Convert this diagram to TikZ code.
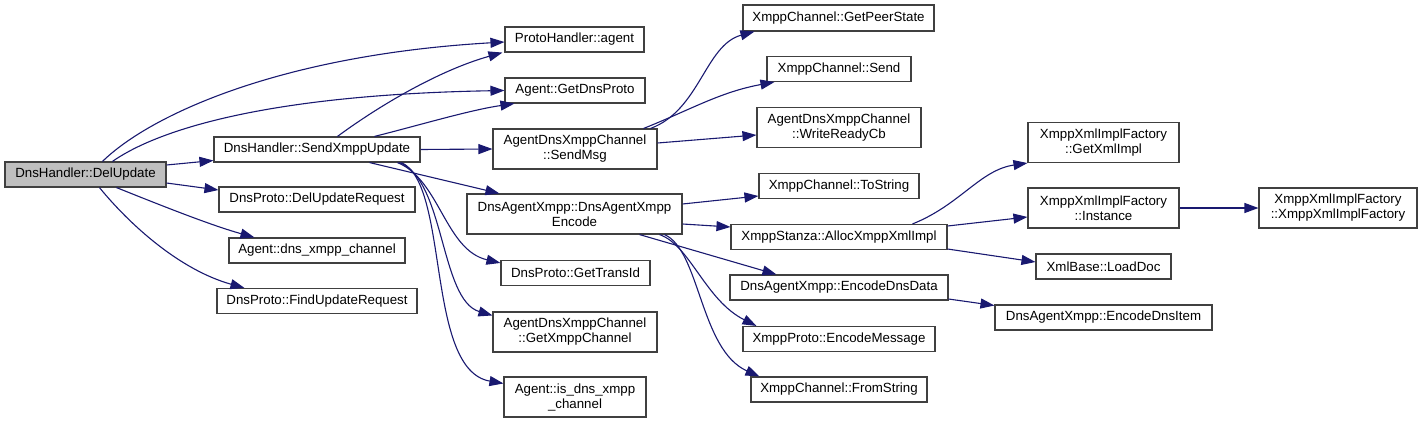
\documentclass[tikz,border=0pt]{standalone}
\usepackage{fontspec}
\setmainfont{Liberation Sans}
\usetikzlibrary{arrows.meta}
\definecolor{edgeblue}{HTML}{191970}
\definecolor{boxline}{HTML}{404040}
\definecolor{rootfill}{HTML}{BFBFBF}
\begin{document}
\begin{tikzpicture}[x=1pt,y=-1pt,
  fn/.style={draw=boxline, line width=1.1pt, fill=white, inner sep=0pt, align=center,
    font=\fontsize{13.3}{15}\selectfont, text=black, minimum height=25pt},
  fn2/.style={fn, minimum height=40pt},
  root/.style={fn, fill=rootfill},
  call/.style={draw=edgeblue, line width=1.1pt, -{Triangle[length=14pt,width=10pt]}, color=edgeblue}
]
\useasboundingbox (0,0) rectangle (1423,423);

% nodes
\node[root, minimum width=161pt] (del) at (85.5,174.5) {DnsHandler::DelUpdate};
\node[fn, minimum width=206pt] (send) at (317,149.5) {DnsHandler::SendXmppUpdate};
\node[fn, minimum width=196pt] (delreq) at (317,199.5) {DnsProto::DelUpdateRequest};
\node[fn, minimum width=176pt] (dnsch) at (317,250.5) {Agent::dns\_xmpp\_channel};
\node[fn, minimum width=200pt] (findreq) at (317,301) {DnsProto::FindUpdateRequest};

\node[fn, minimum width=139pt] (agent) at (574.5,39.5) {ProtoHandler::agent};
\node[fn, minimum width=140pt] (getdns) at (575,90.5) {Agent::GetDnsProto};
\node[fn2, minimum width=164pt] (sendmsg) at (575,149) {AgentDnsXmppChannel\\::SendMsg};
\node[fn2, minimum width=215pt] (encode) at (574.5,214) {DnsAgentXmpp::DnsAgentXmpp\\Encode};
\node[fn, minimum width=149pt] (transid) at (575.5,273) {DnsProto::GetTransId};
\node[fn2, minimum width=164pt] (getxmpp) at (575,332) {AgentDnsXmppChannel\\::GetXmppChannel};
\node[fn2, minimum width=142pt] (isdns) at (575,397) {Agent::is\_dns\_xmpp\\\_channel};

\node[fn, minimum width=191pt, minimum height=26pt] (peer) at (838.5,18) {XmppChannel::GetPeerState};
\node[fn, minimum width=144pt] (xsend) at (839,69) {XmppChannel::Send};
\node[fn2, minimum width=164pt] (writeready) at (839,127.5) {AgentDnsXmppChannel\\::WriteReadyCb};
\node[fn, minimum width=160pt] (tostring) at (839,186) {XmppChannel::ToString};
\node[fn, minimum width=216pt] (alloc) at (839,237) {XmppStanza::AllocXmppXmlImpl};
\node[fn, minimum width=218pt] (encdata) at (839,287.5) {DnsAgentXmpp::EncodeDnsData};
\node[fn, minimum width=192pt] (encmsg) at (839,339) {XmppProto::EncodeMessage};
\node[fn, minimum width=176pt] (fromstr) at (839,389.5) {XmppChannel::FromString};

\node[fn2, minimum width=151pt] (getxml) at (1103.5,142.5) {XmppXmlImplFactory\\::GetXmlImpl};
\node[fn2, minimum width=151pt] (instance) at (1103.5,208) {XmppXmlImplFactory\\::Instance};
\node[fn2, minimum width=158pt] (factory) at (1338,208) {XmppXmlImplFactory\\::XmppXmlImplFactory};
\node[fn, minimum width=135pt] (loaddoc) at (1103.5,266.5) {XmlBase::LoadDoc};
\node[fn, minimum width=217pt] (encitem) at (1103.5,317.5) {DnsAgentXmpp::EncodeDnsItem};

% edges from DelUpdate
\draw[call] ([xshift=98pt]del.north west) .. controls (150,115) and (280,55) .. ([yshift=-2.5pt]agent.west);
\draw[call] ([xshift=108pt]del.north west) .. controls (150,135) and (250,95) .. (getdns.west);
\draw[call] ([yshift=9.5pt]del.east) -- ([yshift=-11pt]send.west);
\draw[call] ([yshift=-8.5pt]del.east) -- ([yshift=9.5pt]delreq.west);
\draw[call] ([xshift=112pt]del.south west) .. controls (160,205) and (210,225) .. ([xshift=26pt]dnsch.north west);
\draw[call] ([xshift=95pt]del.south west) .. controls (130,225) and (180,270) .. ([xshift=28pt]findreq.north west);

% edges from SendXmppUpdate
\draw[call] ([xshift=124pt]send.north west) .. controls (380,105) and (440,70) .. ([xshift=-2pt]agent.south west);
\draw[call] ([xshift=161pt]send.north west) .. controls (420,125) and (470,110) .. ([xshift=10pt]getdns.south west);
\draw[call] (send.east) -- (sendmsg.west);
\draw[call] ([xshift=156pt]send.south west) -- ([xshift=33pt]encode.north west);
\draw[call] ([xshift=184pt]send.south west) .. controls (440,180) and (445,250) .. ([yshift=-3pt]transid.north west);
\draw[call] ([xshift=186pt]send.south west) .. controls (445,180) and (440,300) .. ([yshift=-4pt]getxmpp.north west);
\draw[call] ([xshift=188pt]send.south west) .. controls (450,185) and (425,370) .. ([yshift=-7pt]isdns.north west);

% edges from SendMsg
\draw[call] ([xshift=-7pt]sendmsg.north east) .. controls (700,110) and (705,45) .. ([xshift=12pt]peer.south west);
\draw[call] ([xshift=-14pt]sendmsg.north east) .. controls (690,110) and (720,92) .. ([xshift=8pt]xsend.south west);
\draw[call] ([yshift=6pt]sendmsg.east) -- ([yshift=-7.5pt]writeready.west);

% edges from Encode
\draw[call] ([yshift=10pt]encode.east) -- ([yshift=-10pt]tostring.west);
\draw[call] ([yshift=-10pt]encode.east) -- ([yshift=10pt]alloc.west);
\draw[call] ([xshift=173pt]encode.south west) -- ([xshift=47pt]encdata.north west);
\draw[call] ([xshift=193pt]encode.south west) .. controls (690,245) and (705,300) .. ([xshift=14pt]encmsg.north west);
\draw[call] ([xshift=198pt]encode.south west) .. controls (700,250) and (700,350) .. ([xshift=9pt]fromstr.north west);

% edges from AllocXmppXmlImpl
\draw[call] ([xshift=182pt]alloc.north west) .. controls (960,205) and (980,170) .. (getxml.south west);
\draw[call] ([yshift=11pt]alloc.east) -- ([yshift=-9pt]instance.west);
\draw[call] ([yshift=-12pt]alloc.east) -- ([yshift=4.5pt]loaddoc.west);
\draw[call] (instance.east) -- (factory.west);
\draw[call] ([yshift=-11.5pt]encdata.east) -- ([yshift=12pt]encitem.west);
\end{tikzpicture}
\end{document}
